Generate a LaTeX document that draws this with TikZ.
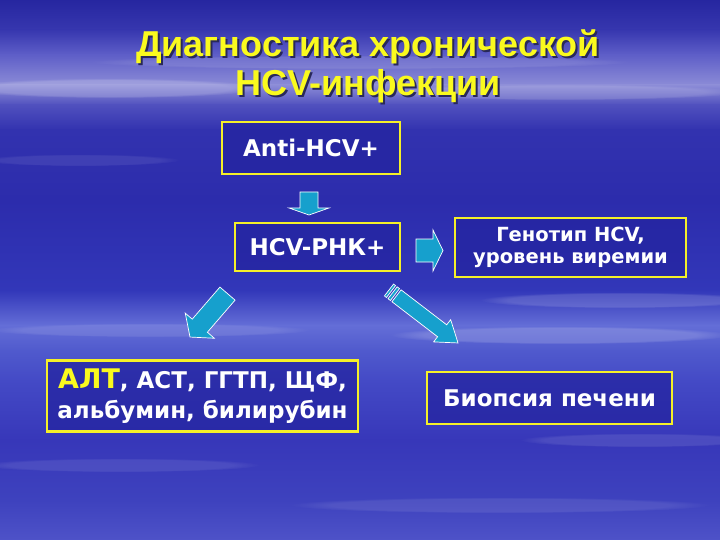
\documentclass[tikz,border=0pt]{standalone}
\usepackage{fontspec}
\setmainfont{DejaVu Sans}
\newfontfamily\titlefont{Liberation Sans}
\usetikzlibrary{fadings}
\definecolor{ttlyellow}{RGB}{250,250,30}
\definecolor{ttlshadow}{RGB}{40,40,90}
\definecolor{boxyellow}{RGB}{245,240,40}
\definecolor{boxfill}{RGB}{36,36,160}
\definecolor{arrowcyan}{RGB}{22,160,205}
\definecolor{bgA}{RGB}{38,38,160}
\definecolor{bgB}{RGB}{55,55,175}
\definecolor{bgC}{RGB}{95,95,200}
\definecolor{bgD}{RGB}{140,140,215}
\definecolor{bgE}{RGB}{80,80,190}
\definecolor{bgF}{RGB}{50,50,175}
\definecolor{bgG}{RGB}{44,44,172}
\definecolor{bgH}{RGB}{50,55,185}
\definecolor{bgI}{RGB}{100,110,215}
\definecolor{bgJ}{RGB}{80,90,205}
\definecolor{bgK}{RGB}{68,74,198}
\definecolor{bgL}{RGB}{55,55,185}
\definecolor{bgM}{RGB}{62,66,190}
\definecolor{bgN}{RGB}{78,82,200}
\newcommand{\shadowtext}[1]{\makebox[0pt][l]{\hspace{2pt}\raisebox{-2pt}{\color{ttlshadow}#1}}#1}
\tikzset{
  box/.style={draw=boxyellow, line width=2.6pt, fill=boxfill, fill opacity=0.75,
    text opacity=1, text=white, inner sep=0pt, align=center,
    font=\bfseries\fontsize{23}{27}\selectfont},
  arrowfill/.style={fill=arrowcyan, draw=white, line width=0.7pt, line join=miter},
  streak/.style={fill=white, path fading=circle with fuzzy edge 20 percent},
  titletext/.style={anchor=base, text=ttlyellow, font=\titlefont\bfseries\fontsize{36}{39}\selectfont},
  pics/blockarrow/.style n args={4}{code={
    \path[arrowfill] (0,-#2) -- ({#1-#4},-#2) -- ({#1-#4},-#3) -- (#1,0)
      -- ({#1-#4},#3) -- ({#1-#4},#2) -- (0,#2) -- cycle;
  }},
  pics/stripedarrow/.style n args={4}{code={
    \path[arrowfill] (0,-#2) rectangle (2.5,#2);
    \path[arrowfill] (4.5,-#2) rectangle (7.5,#2);
    \path[arrowfill] (9.5,-#2) -- ({#1-#4},-#2) -- ({#1-#4},-#3) -- (#1,0)
      -- ({#1-#4},#3) -- ({#1-#4},#2) -- (9.5,#2) -- cycle;
  }},
}
\begin{document}
\begin{tikzpicture}[x=1pt,y=-1pt]
\useasboundingbox (0,0) rectangle (720,540);
% background
\shade[top color=bgA, bottom color=bgB] (0,0) rectangle (720,30.5);
\shade[top color=bgB, bottom color=bgC] (0,30) rectangle (720,55.5);
\shade[top color=bgC, bottom color=bgD] (0,55) rectangle (720,85.5);
\shade[top color=bgD, bottom color=bgE] (0,85) rectangle (720,105.5);
\shade[top color=bgE, bottom color=bgF] (0,105) rectangle (720,130.5);
\shade[top color=bgF, bottom color=bgG] (0,130) rectangle (720,200.5);
\shade[top color=bgG, bottom color=bgH] (0,200) rectangle (720,290.5);
\shade[top color=bgH, bottom color=bgI] (0,290) rectangle (720,325.5);
\shade[top color=bgI, bottom color=bgJ] (0,325) rectangle (720,350.5);
\shade[top color=bgJ, bottom color=bgK] (0,350) rectangle (720,380.5);
\shade[top color=bgK, bottom color=bgL] (0,380) rectangle (720,440.5);
\shade[top color=bgL, bottom color=bgM] (0,440) rectangle (720,500.5);
\shade[top color=bgM, bottom color=bgN] (0,500) rectangle (720,540);
% cloud streaks
\fill[streak, opacity=0.18] (110,88) ellipse (150 and 10);
\fill[streak, opacity=0.14] (560,92) ellipse (180 and 8);
\fill[streak, opacity=0.10] (360,62) ellipse (270 and 7);
\fill[streak, opacity=0.14] (620,300) ellipse (140 and 8);
\fill[streak, opacity=0.16] (560,335) ellipse (170 and 9);
\fill[streak, opacity=0.10] (150,330) ellipse (160 and 7);
\fill[streak, opacity=0.10] (640,440) ellipse (120 and 7);
\fill[streak, opacity=0.09] (120,465) ellipse (140 and 7);
\fill[streak, opacity=0.09] (500,505) ellipse (210 and 8);
\fill[streak, opacity=0.08] (80,160) ellipse (100 and 6);
% title
\node[titletext] (t1) at (368,57) {\shadowtext{Диагностика хронической}};
\node[titletext] (t2) at (368,96) {\shadowtext{HCV-инфекции}};
% boxes
\node[box, minimum width=178pt, minimum height=52pt] (anti) at (311,148) {Anti-HCV+};
\node[box, minimum width=165pt, minimum height=48pt] (rnk) at (317.5,247) {HCV-РНК+};
\node[box, minimum width=231pt, minimum height=59pt,
  font=\bfseries\fontsize{19.5}{22}\selectfont] (gen) at (570.5,247.5) {Генотип HCV,\\уровень виремии};
\node[box, minimum width=311pt, minimum height=71pt,
  font=\bfseries\fontsize{23}{30}\selectfont] (alt) at (202.5,396)
  {{\color{ttlyellow}\fontsize{27}{30}\selectfont АЛТ}, АСТ, ГГТП, ЩФ,\\альбумин, билирубин};
\node[box, minimum width=245pt, minimum height=52pt] (bio) at (549.5,398) {Биопсия печени};
% arrows
\pic[rotate=270] at (309,192) {blockarrow={23}{9}{20}{7}};
\pic at (416,250.5) {blockarrow={27}{11.5}{20.5}{10}};
\pic[rotate=229.2] at (227.5,293.6) {blockarrow={57.4}{10}{19.2}{15}};
\pic[rotate=322.5] at (389,290) {stripedarrow={87}{7.5}{14}{20}};
\end{tikzpicture}
\end{document}
